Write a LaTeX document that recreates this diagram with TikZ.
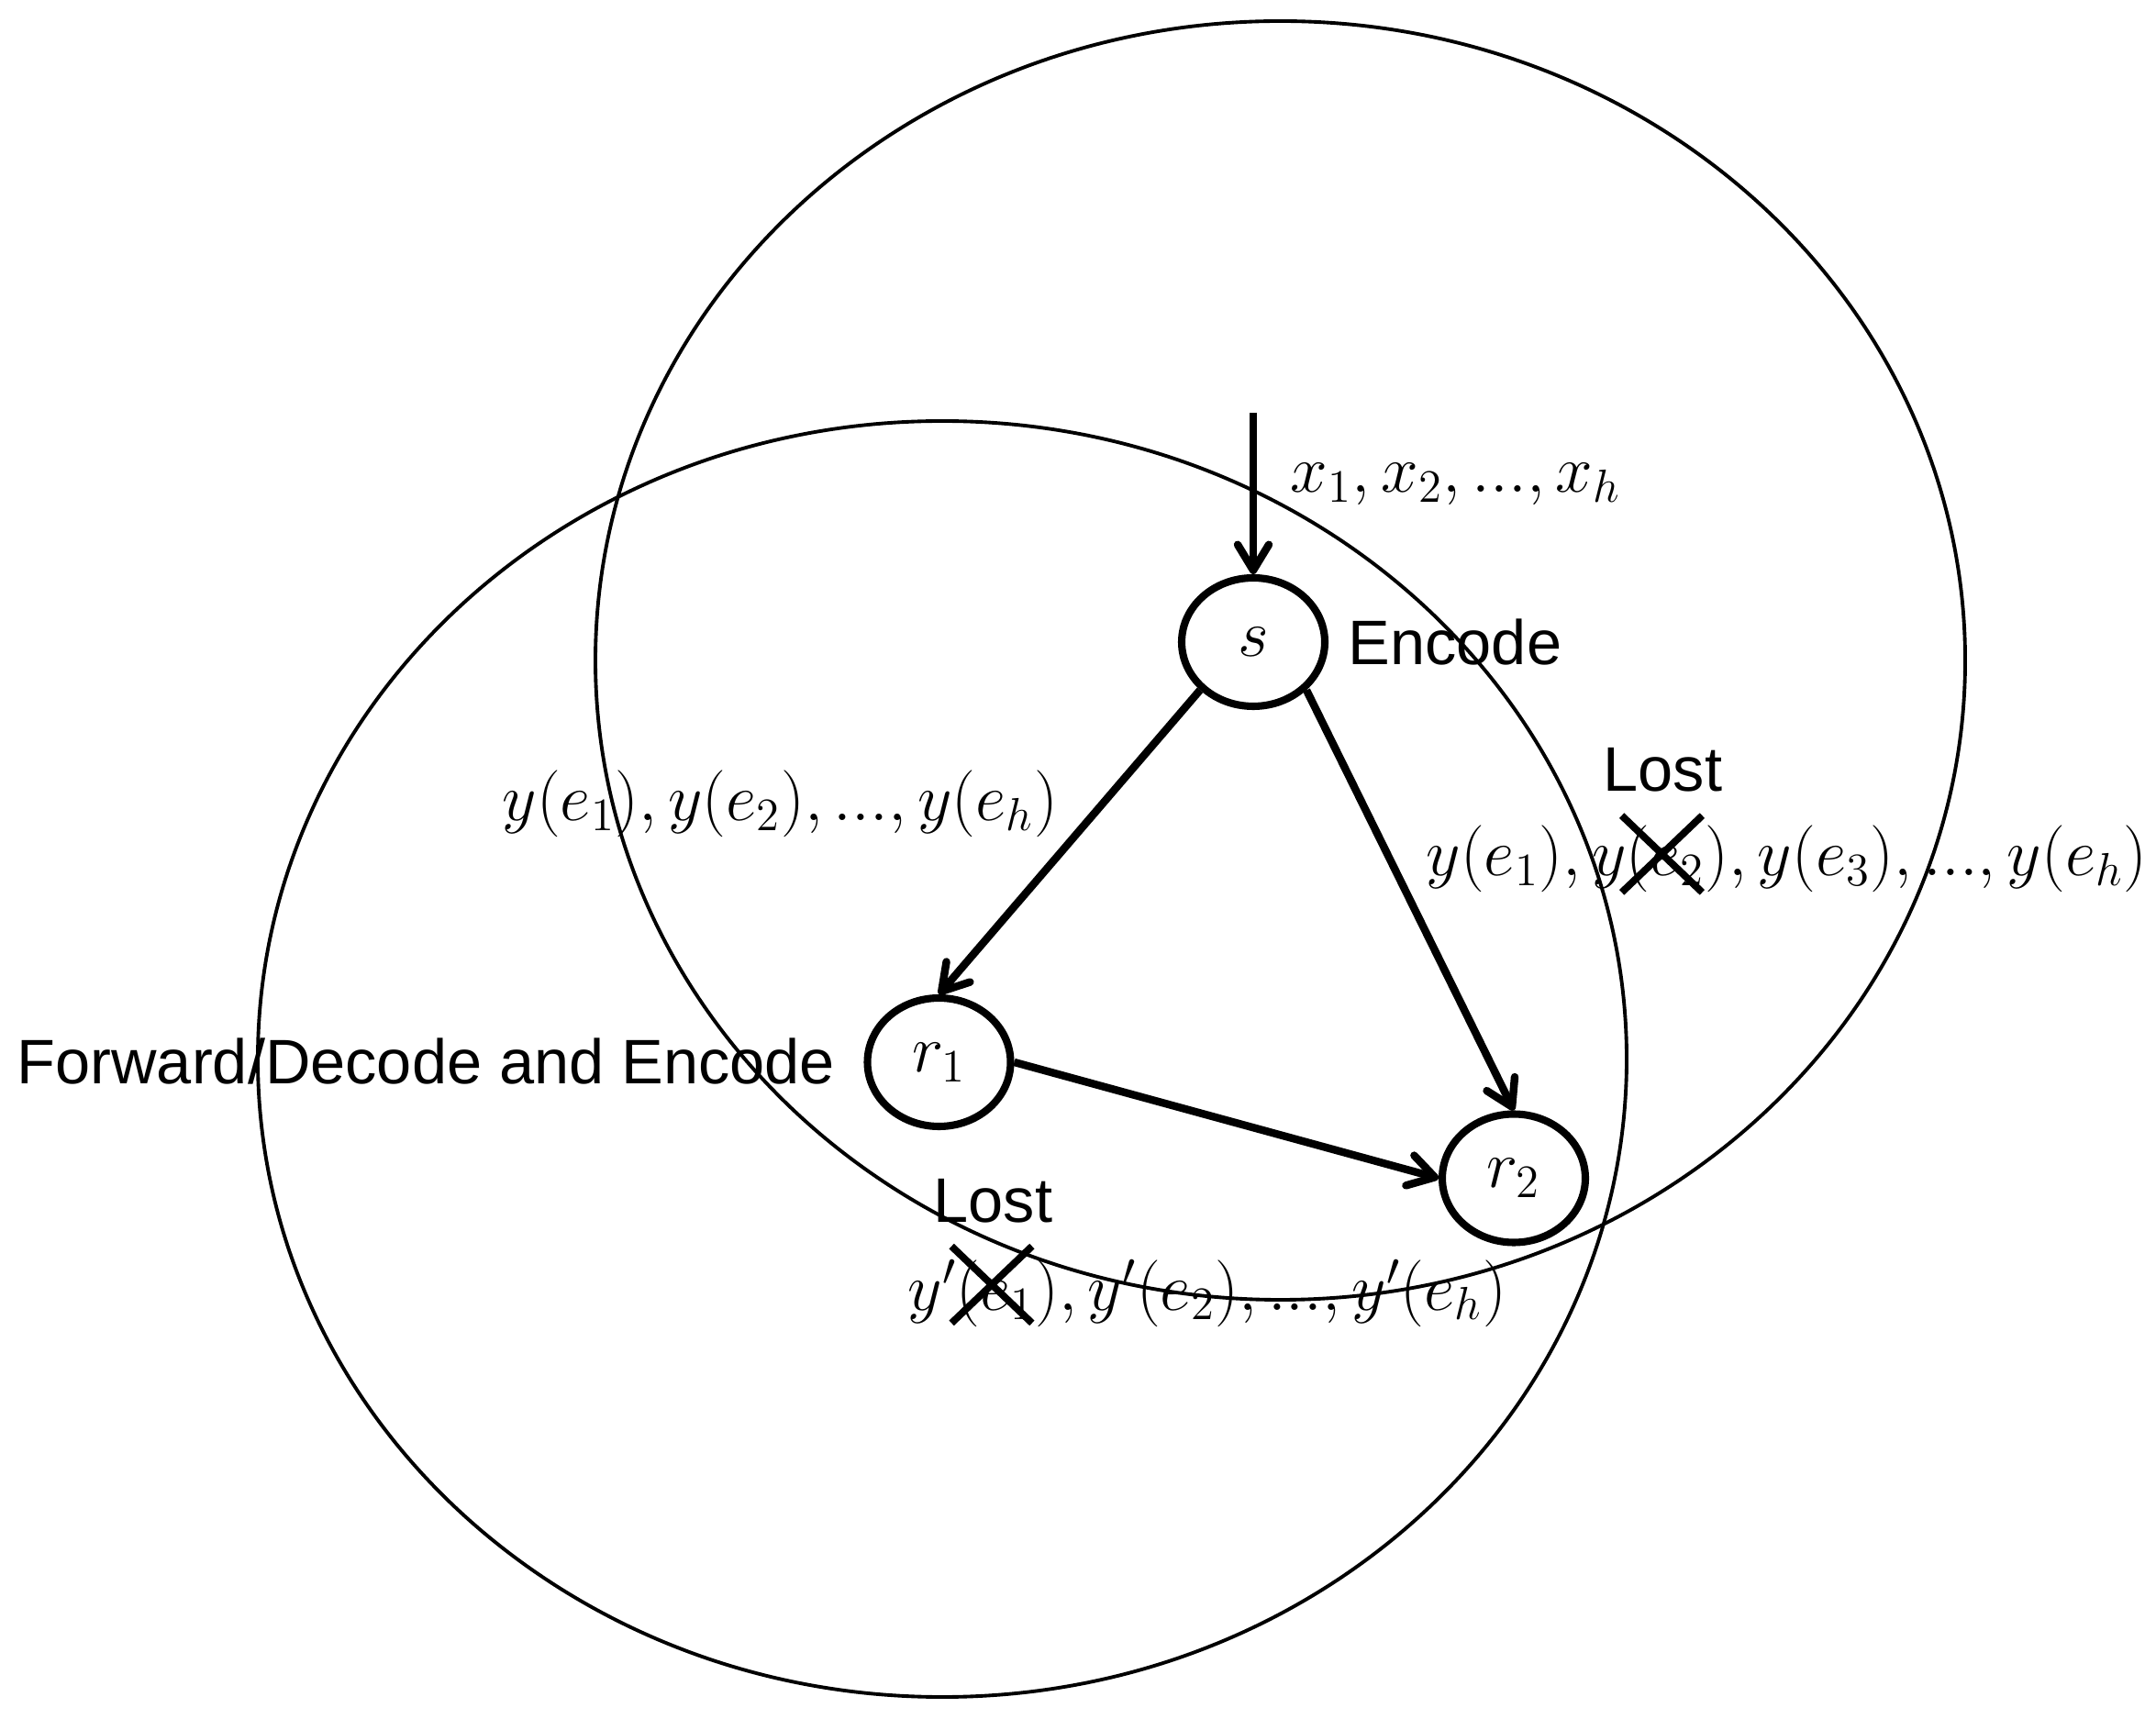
\documentclass[tikz,border=0pt]{standalone}
\usepackage[no-math]{fontspec}
\setmainfont{Liberation Sans}
\usetikzlibrary{arrows.meta,positioning,shapes.geometric,shapes.misc}
\begin{document}
\begin{tikzpicture}[font=\fontsize{19.5}{23}\selectfont,vert/.style={draw,ellipse,line width=2.3pt,fill=white,minimum width=1.56cm,minimum height=1.40cm,inner sep=0pt},arr/.style={-{Straight Barb[length=2.8mm,width=3.4mm,round]},line width=2.4pt},lbl/.style={anchor=base west,inner sep=0pt},lostx/.style={cross out,draw,line width=2.2pt,minimum width=0.8cm,minimum height=0.76cm,inner sep=0pt}]
\useasboundingbox (0,0) rectangle (23.5,18.73);
\draw[line width=1.1pt] (13.955,11.53) ellipse [x radius=7.465,y radius=6.97];
\draw[line width=1.1pt] (10.27,7.185) ellipse [x radius=7.46,y radius=6.955];
\node[vert] (s) at (13.66,11.73) {$s$};
\node[vert] (r1) at (10.235,7.15) {$r_1$};
\node[vert] (r2) at (16.50,5.885) {$r_2$};
\coordinate (in) at (13.66,14.23);
\draw[arr] (in) -- (s.north);
\draw[arr] (s.south west) -- (r1.north);
\draw[arr] (s.south east) -- (r2.north);
\draw[arr] (r1.east) -- (r2.west);
\node[lbl] (xs) at (14.06,13.36) {$x_1, x_2, ..., x_h$};
\node[lbl] (enc) at (14.69,11.48) {Encode};
\node[lbl] (fwd) at (0.18,6.91) {Forward/Decode and Encode};
\node[lbl] (ys1) at (5.47,9.78) {$y(e_1), y(e_2), ..., y(e_h)$};
\node[lbl] (lost2) at (17.47,10.10) {Lost};
\node[lbl] (ys2) at (15.54,9.18) {$y(e_1), y(e_2), y(e_3), ..., y(e_h)$};
\node[lbl] (lost1) at (10.17,5.41) {Lost};
\node[lbl] (ys3) at (9.89,4.45) {$y'(e_1), y'(e_2), ..., y'(e_h)$};
\node[lostx] (x2) at (18.115,9.42) {};
\node[lostx] (x1) at (10.81,4.725) {};
\end{tikzpicture}
\end{document}
